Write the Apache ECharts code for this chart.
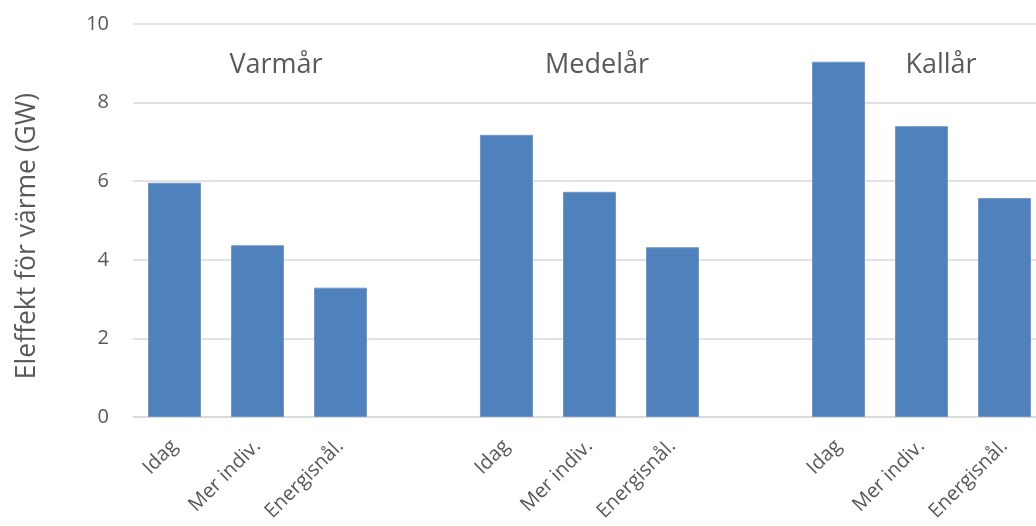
<!DOCTYPE html>
<html>
<head>
<meta charset="utf-8">
<script src="https://cdn.jsdelivr.net/npm/echarts@6/dist/echarts.min.js"></script>
<style>
html,body{margin:0;padding:0;background:#fff;}
#c{width:1036px;height:526px;}
</style>
</head>
<body>
<div id="c"></div>
<script>
const categories = ['Idag','Mer indiv.','Energisnål.','', 'Idag','Mer indiv.','Energisnål.','', 'Idag','Mer indiv.','Energisnål.'];
const values = [5.96, 4.37, 3.29, '-', 7.18, 5.73, 4.32, '-', 9.04, 7.40, 5.57];
const groupLabels = ['Varmår','Medelår','Kallår'];
const yTicks = [0, 2, 4, 6, 8, 10];
const yName = 'Eleffekt för värme (GW)';

const FONT = '"Open Sans", sans-serif';
const GREY = '#595959';
const chart = echarts.init(document.getElementById('c'));
const groupX = [276, 597, 941];

chart.setOption({
  animation: false,
  grid: { left: 133, top: 24, height: 393, width: 913, outerBoundsMode: 'none', containLabel: false },
  xAxis: {
    type: 'category',
    data: categories,
    axisLine: { show: true, lineStyle: { color: '#d9d9d9', width: 1.5 } },
    axisTick: { show: false },
    axisLabel: { interval: 0, rotate: 45, color: GREY, fontFamily: FONT, fontSize: 20, margin: 26 }
  },
  yAxis: {
    type: 'value',
    min: yTicks[0],
    max: yTicks[yTicks.length - 1],
    interval: yTicks[1] - yTicks[0],
    axisLine: { show: false },
    axisTick: { show: false },
    splitLine: { lineStyle: { color: '#d9d9d9', width: 1.5 } },
    axisLabel: { color: GREY, fontFamily: FONT, fontSize: 20, margin: 24 }
  },
  series: [{
    type: 'bar',
    data: values,
    barWidth: 53,
    itemStyle: { color: '#4F81BD', borderColor: '#6f97c8', borderWidth: 1 }
  }],
  graphic: groupLabels.map((t, i) => ({
    type: 'text',
    x: groupX[i], y: 65,
    style: { text: t, fontFamily: FONT, fontSize: 27, fill: GREY, textAlign: 'center', textVerticalAlign: 'middle' }
  })).concat([{
    type: 'text',
    x: 27, y: 236, rotation: Math.PI / 2,
    style: { text: yName, fontFamily: FONT, fontSize: 26.5, fill: GREY, textAlign: 'center', textVerticalAlign: 'middle' }
  }])
});
</script>
</body>
</html>
